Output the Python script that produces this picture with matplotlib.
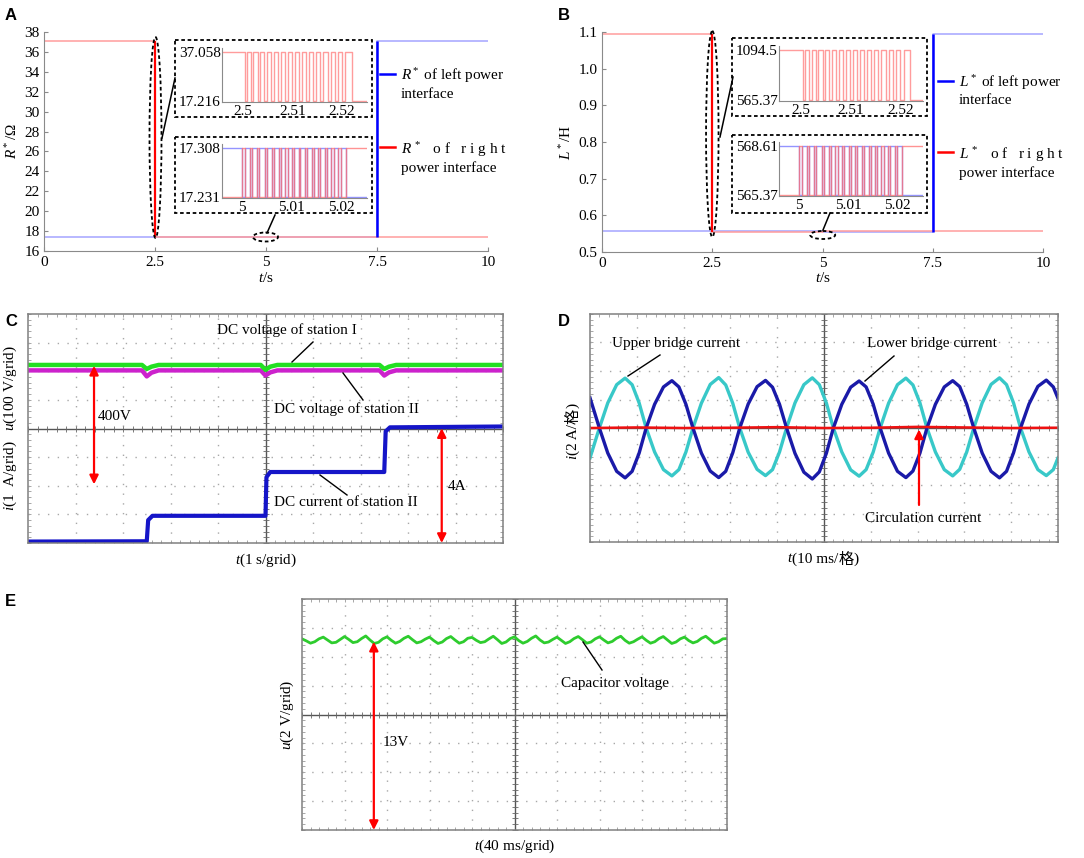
import matplotlib
matplotlib.use('Agg')
import matplotlib.pyplot as plt
from matplotlib.patches import Ellipse, Rectangle
from matplotlib.ticker import MultipleLocator
import numpy as np

plt.rcParams['font.family'] = ['Liberation Serif', 'Noto Sans CJK SC']
plt.rcParams['mathtext.fontset'] = 'custom'
plt.rcParams['mathtext.rm'] = 'Liberation Serif'
plt.rcParams['mathtext.it'] = 'Liberation Serif:italic'
plt.rcParams['font.size'] = 11

# ---------------- dados ----------------
# A / B: R* e L* das duas interfaces de potencia
t_seg = [0, 2.5, 5, 7.5, 10]
R_left = [17.42, 17.42, 17.38, 37.10, 37.10]
R_right = [37.10, 17.38, 17.42, 17.42, 17.42]
L_left = [0.556, 0.556, 0.554, 1.094, 1.094]
L_right = [1.094, 0.554, 0.556, 0.556, 0.556]

edges_25 = [2.50030, 2.50078, 2.50166, 2.50207, 2.50295, 2.50343, 2.50431, 2.50479,
            2.50567, 2.50615, 2.50703, 2.50758, 2.50846, 2.50900, 2.50989, 2.51043,
            2.51132, 2.51186, 2.51274, 2.51329, 2.51417, 2.51472, 2.51560, 2.51621,
            2.51710, 2.51771, 2.51852, 2.51920, 2.52002, 2.52070, 2.52206]
edges_5 = [5.00000, 5.00048, 5.00150, 5.00190, 5.00306, 5.00347, 5.00456, 5.00496,
           5.00598, 5.00646, 5.00734, 5.00782, 5.00870, 5.00918, 5.01006, 5.01054,
           5.01136, 5.01176, 5.01272, 5.01312, 5.01408, 5.01448, 5.01530, 5.01578,
           5.01666, 5.01714, 5.01802, 5.01850, 5.01938, 5.01986, 5.02088]
R_ins1 = (17.216, 37.058)
R_ins2 = (17.231, 17.308)
L_ins1 = (565.37, 1094.5)
L_ins2 = (565.37, 568.61)
ins1_ticks = [2.5, 2.51, 2.52]
ins2_ticks = [5, 5.01, 5.02]

# C: tensoes e corrente DC (divisoes do osciloscopio)
c_tv = [0, 2.4, 2.5, 2.6, 2.75, 4.9, 5.0, 5.1, 5.25, 7.4, 7.5, 7.6, 7.75, 10]
c_u1 = [6.22, 6.22, 6.08, 6.16, 6.22, 6.22, 6.05, 6.16, 6.22, 6.22, 6.08, 6.16, 6.22, 6.22]
c_u2 = [6.03, 6.03, 5.82, 5.95, 6.03, 6.03, 5.85, 5.96, 6.03, 6.03, 5.85, 5.96, 6.03, 6.03]
c_ti = [0, 2.5, 2.53, 2.62, 5.0, 5.02, 5.1, 7.5, 7.53, 7.62, 10]
c_i = [0.05, 0.06, 0.80, 0.95, 0.95, 2.30, 2.48, 2.48, 3.90, 4.04, 4.07]

# D: correntes dos bracos (div)
d_t = [0,
       0.2, 0.38, 0.57, 0.75, 0.9, 1.05, 1.2, 1.38, 1.57, 1.75, 1.9, 2.05,
       2.2, 2.38, 2.57, 2.75, 2.9, 3.05, 3.2, 3.38, 3.57, 3.75, 3.9, 4.05,
       4.2, 4.38, 4.57, 4.75, 4.9, 5.05, 5.2, 5.38, 5.57, 5.75, 5.9, 6.05,
       6.2, 6.38, 6.57, 6.75, 6.9, 7.05, 7.2, 7.38, 7.57, 7.75, 7.9, 8.05,
       8.2, 8.38, 8.57, 8.75, 8.9, 9.05, 9.2, 9.38, 9.57, 9.75, 9.9, 10.0]
d_upper = [-1.05,
           0, 0.88, 1.52, 1.75, 1.52, 0.88, 0, -0.84, -1.46, -1.68, -1.46, -0.84,
           0, 0.87, 1.53, 1.77, 1.51, 0.87, 0, -0.85, -1.45, -1.67, -1.46, -0.84,
           0, 0.88, 1.52, 1.76, 1.52, 0.88, 0, -0.84, -1.47, -1.69, -1.46, -0.85,
           0, 0.87, 1.52, 1.75, 1.51, 0.88, 0, -0.84, -1.46, -1.68, -1.45, -0.84,
           0, 0.88, 1.53, 1.76, 1.52, 0.88, 0, -0.84, -1.46, -1.67, -1.46, -1.05]
d_lower = [1.06,
           0, -0.88, -1.52, -1.75, -1.52, -0.88, 0, 0.83, 1.44, 1.66, 1.44, 0.83,
           0, -0.88, -1.51, -1.74, -1.52, -0.87, 0, 0.84, 1.45, 1.67, 1.43, 0.83,
           0, -0.89, -1.55, -1.79, -1.54, -0.89, 0, 0.83, 1.43, 1.65, 1.44, 0.84,
           0, -0.88, -1.52, -1.74, -1.51, -0.88, 0, 0.83, 1.44, 1.66, 1.45, 0.83,
           0, -0.88, -1.52, -1.75, -1.52, -0.87, 0, 0.84, 1.46, 1.68, 1.44, 1.04]
d_tc = [0, 1, 2, 3, 4, 5, 6, 7, 8, 9, 10]
d_circ = [0.0, 0.02, 0.0, 0.01, 0.03, 0.0, 0.01, 0.04, 0.02, 0.0, 0.01]

# E: tensao do capacitor (div)
e_u = [6.62, 6.55, 6.47, 6.52, 6.62, 6.68, 6.58, 6.48, 6.50, 6.60,
       6.70, 6.60, 6.49, 6.52, 6.63, 6.72, 6.58, 6.46, 6.50, 6.62,
       6.69, 6.57, 6.47, 6.53, 6.64, 6.71, 6.59, 6.48, 6.52, 6.61,
       6.68, 6.56, 6.46, 6.51, 6.63, 6.70, 6.58, 6.47, 6.52, 6.64,
       6.67, 6.57, 6.49, 6.52, 6.62, 6.71, 6.59, 6.46, 6.51, 6.63,
       6.69, 6.56, 6.47, 6.53, 6.64, 6.72, 6.58, 6.48, 6.51, 6.60,
       6.68, 6.57, 6.46, 6.52, 6.63, 6.70, 6.59, 6.47, 6.51, 6.62,
       6.69, 6.58, 6.48, 6.53, 6.64, 6.71, 6.57, 6.47, 6.52, 6.61,
       6.69, 6.57, 6.47, 6.52, 6.63, 6.70, 6.58, 6.46, 6.51, 6.62,
       6.68, 6.56, 6.48, 6.53, 6.64, 6.71, 6.59, 6.47, 6.52, 6.62,
       6.63]
e_t = np.linspace(0, 10, len(e_u))

# ---------------- figura ----------------
W, H = 1084, 858
fig = plt.figure(figsize=(W / 100, H / 100), dpi=100)


def px_axes(x0, y0, x1, y1):
    return fig.add_axes([x0 / W, 1 - y1 / H, (x1 - x0) / W, (y1 - y0) / H])


ov = fig.add_axes([0, 0, 1, 1])
ov.set_xlim(0, W)
ov.set_ylim(H, 0)
ov.axis('off')
ov.set_zorder(10)
ov.patch.set_alpha(0)

GRAY = '#8a8a8a'
LRED, LBLUE = '#ff9c9c', '#a4a4ff'


def estilo_eixo(ax):
    for s in ['top', 'right']:
        ax.spines[s].set_visible(False)
    for s in ['left', 'bottom']:
        ax.spines[s].set_color(GRAY)
    ax.tick_params(direction='in', length=3, color=GRAY, pad=3)


def painel_principal(box, left, right, ylim, yticks, ylabels):
    ax = px_axes(*box)
    ax.plot(t_seg, left, drawstyle='steps-post', color=LBLUE, lw=1.1)
    ax.plot(t_seg, right, drawstyle='steps-post', color=LRED, lw=1.1)
    ax.vlines(t_seg[1], right[1], right[0], color='red', lw=1.6)
    ax.vlines(t_seg[3], left[2], left[3], color='blue', lw=1.8)
    ax.set_xlim(0, 10)
    ax.set_ylim(*ylim)
    ax.set_xticks([0, 2.5, 5, 7.5, 10])
    ax.set_xticklabels(['0', '2.5', '5', '7.5', '10'])
    ax.set_yticks(yticks)
    ax.set_yticklabels(ylabels)
    estilo_eixo(ax)
    ax.tick_params(axis='x', pad=3.5)
    return ax


def detalhe(box, edges, xlim, lo, hi, ticks, ylabels, dois=False):
    ax = px_axes(*box)
    d = hi - lo
    xs = [xlim[0]] + edges + [xlim[1]]
    a = [lo if i % 2 == 0 else hi for i in range(len(edges))]
    ys = [hi] + a + [a[-1]]
    if dois:
        b = [hi if i % 2 == 0 else lo for i in range(len(edges))]
        ys2 = [lo] + b + [b[-1]]
        ax.plot(xs, ys, drawstyle='steps-post', color='#7070ff', lw=1.0, alpha=0.75)
        ax.plot(xs, ys2, drawstyle='steps-post', color='#ff6f6f', lw=1.0, alpha=0.75)
    else:
        ax.plot(xs, ys, drawstyle='steps-post', color=LRED, lw=1.0)
    ax.set_xlim(*xlim)
    ax.set_ylim(lo - 0.015 * d, hi + 0.08 * d)
    ax.set_xticks(ticks)
    ax.set_xticklabels([str(t) for t in ticks])
    ax.set_yticks([lo, hi])
    ax.set_yticklabels(ylabels)
    estilo_eixo(ax)
    ax.tick_params(length=0, pad=1)
    ax.tick_params(axis='x', pad=2.5)
    ax.patch.set_alpha(0)
    return ax


# ----- A -----
painel_principal((44, 32, 488, 251), R_left, R_right, (16, 38), range(16, 39, 2),
                 [str(v) for v in range(16, 39, 2)])
detalhe((222, 48, 367, 102), edges_25, (2.4957, 2.5251), R_ins1[0], R_ins1[1],
        ins1_ticks, ['17.216', '37.058'])
detalhe((222, 144, 367, 198), edges_5, (4.9959, 5.0252), R_ins2[0], R_ins2[1],
        ins2_ticks, ['17.231', '17.308'], dois=True)

# ----- B -----
painel_principal((602, 32, 1043, 252), L_left, L_right, (0.5, 1.1),
                 np.round(np.arange(0.5, 1.11, 0.1), 1),
                 ['0.5', '0.6', '0.7', '0.8', '0.9', '1.0', '1.1'])
detalhe((779, 46, 923, 101), edges_25, (2.4955, 2.5246), L_ins1[0], L_ins1[1],
        ins1_ticks, ['565.37', '1094.5'])
detalhe((779, 142, 923, 196), edges_5, (4.9959, 5.0251), L_ins2[0], L_ins2[1],
        ins2_ticks, ['565.37', '568.61'], dois=True)

# caixas tracejadas, elipses e ligacoes
dash = (0, (2, 1.5))
for (x0, y0, x1, y1) in [(175, 40, 372, 117), (175, 137, 372, 213),
                         (732, 38, 927, 116), (732, 135, 927, 213)]:
    ov.add_patch(Rectangle((x0, y0), x1 - x0, y1 - y0, fill=False, ec='black',
                           lw=1.3, ls=dash))
for (cx, cy, w, h) in [(155.5, 137.5, 12, 201), (265.5, 237, 25, 9),
                       (712.3, 134, 12.5, 206), (822.7, 235, 25, 8)]:
    ov.add_patch(Ellipse((cx, cy), w, h, fill=False, ec='black', lw=1.3, ls=dash))
for (x0, y0, x1, y1) in [(162, 138, 175, 78), (267, 233, 275, 215),
                         (720, 137, 733, 77), (823, 230, 830, 213)]:
    ov.plot([x0, x1], [y0, y1], color='black', lw=1.1)

# legendas A/B
for (xl, sym, y1, y2) in [(380, 'R', 74, 147), (938, 'L', 81, 152)]:
    ov.plot([xl, xl + 15], [y1, y1], color='blue', lw=1.8)
    ov.plot([xl, xl + 15], [y2, y2], color='red', lw=1.8)
    xt = xl + 21
    ov.text(xt, y1 + 2, f'${sym}^*$ of left power', va='center', ha='left')
    ov.text(xt, y1 + 20, 'interface', va='center', ha='left')
    ov.text(xt, y2 + 3, f'${sym}^{{\\,*}}$   o f   r i g h t', va='center', ha='left')
    ov.text(xt, y2 + 21, 'power interface', va='center', ha='left')

ov.text(12, 141, r'$R^*$/Ω', rotation=90, ha='center', va='center')
ov.text(266, 278, r'$t$/s', ha='center', va='center')
ov.text(566, 142, r'$L^*$/H', rotation=90, ha='center', va='center')
ov.text(823, 278, r'$t$/s', ha='center', va='center')


# ----- osciloscopio -----
def tela(box):
    ax = px_axes(*box)
    ax.set_xlim(0, 10)
    ax.set_ylim(0, 8)
    for k in range(1, 10):
        if k != 5:
            ax.axvline(k, color='#a8a8a8', lw=1.0, ls=(0, (1, 6)))
    for k in range(1, 8):
        if k != 4:
            ax.axhline(k, color='#a8a8a8', lw=1.0, ls=(0, (1, 6)))
    ax.axvline(5, color='#555555', lw=1.0)
    ax.axhline(4, color='#555555', lw=1.0)
    mx = np.arange(0, 10.01, 0.2)
    my = np.arange(0, 8.01, 0.2)
    ax.plot(mx, np.full(len(mx), 4), ls='none', marker='|', ms=4, mew=0.6, color='#666666')
    ax.plot(np.full(len(my), 5), my, ls='none', marker='_', ms=4, mew=0.6, color='#666666')
    for s in ax.spines.values():
        s.set_color('#808080')
        s.set_linewidth(1.1)
    ax.xaxis.set_major_locator(MultipleLocator(1))
    ax.yaxis.set_major_locator(MultipleLocator(1))
    ax.xaxis.set_minor_locator(MultipleLocator(0.2))
    ax.yaxis.set_minor_locator(MultipleLocator(0.2))
    ax.tick_params(which='both', direction='in', length=2.5, width=0.6, color='#999999',
                   top=True, right=True, labelbottom=False, labelleft=False)
    return ax


def seta(ax, x, y0, y1, dupla=True):
    ax.annotate('', xy=(x, y1), xytext=(x, y0),
                arrowprops=dict(arrowstyle='<|-|>' if dupla else '-|>', color='red',
                                lw=1.6, mutation_scale=13, shrinkA=0, shrinkB=0))


# ----- C -----
axc = tela((28, 314, 503, 543))
axc.plot(c_tv, c_u2, color='#cc22cc', lw=3.2)
axc.plot(c_tv, c_u1, color='#22e022', lw=3.2)
axc.plot(c_ti, c_i, color='#1515c8', lw=3.0)
seta(axc, 1.39, 6.19, 2.05)
seta(axc, 8.71, 4.01, 0.0)
ov.text(287, 330, 'DC voltage of station I', ha='center', va='center')
ov.text(274, 409, 'DC voltage of station II', ha='left', va='center')
ov.text(274, 503, 'DC current of station II', ha='left', va='center')
ov.text(98, 417, '400V', ha='left', va='center')
ov.text(448, 486, '4A', ha='left', va='center')
ov.text(266, 560, r'$t$(1 s/grid)', ha='center', va='center')
ov.text(10, 388, r'$u$(100 V/grid)', rotation=90, ha='center', va='center')
ov.text(10, 476, r'$i$(1  A/grid)', rotation=90, ha='center', va='center')
for (x0, y0, x1, y1) in [(292, 362, 313, 342), (343, 373, 363, 400), (320, 475, 347, 495)]:
    ov.plot([x0, x1], [y0, y1], color='black', lw=1.0)

# ----- D -----
axd = tela((590, 314, 1058, 542))
axd.plot(d_t, [v + 4 for v in d_upper], color='#38c8c8', lw=2.4)
axd.plot(d_t, [v + 4 for v in d_lower], color='#1a1aa8', lw=2.4)
axd.plot(d_tc, [v + 4 for v in d_circ], color='#ee1111', lw=1.8)
seta(axd, 7.03, 1.3, 3.95, dupla=False)
ov.text(612, 343, 'Upper bridge current', ha='left', va='center')
ov.text(867, 343, 'Lower bridge current', ha='left', va='center')
ov.text(865, 518, 'Circulation current', ha='left', va='center')
for (x0, y0, x1, y1) in [(628, 376, 660, 355), (865, 381, 894, 356)]:
    ov.plot([x0, x1], [y0, y1], color='black', lw=1.0)

# rotulos com o caractere 格: pecas colocadas uma apos a outra
renderer = fig.canvas.get_renderer()
x = 792
ov.text(x, 559, 't', style='italic', ha='right', va='center')
for parte in ['(10 ms/', '格', ')']:
    fam = ['Noto Sans CJK SC'] if parte == '格' else ['Liberation Serif']
    t = ov.text(x, 559, parte, ha='left', va='center', family=fam)
    x += t.get_window_extent(renderer).width
y = 459
for parte, estilo in [('i', 'italic'), ('(2 A/', 'normal'), ('格', 'normal'), (')', 'normal')]:
    fam = ['Noto Sans CJK SC'] if parte == '格' else ['Liberation Serif']
    t = ov.text(573, y, parte, rotation=90, ha='center', va='bottom', family=fam,
                style=estilo)
    y -= t.get_window_extent(renderer).height

# ----- E -----
axe = tela((302, 599, 727, 830))
axe.plot(e_t, e_u, color='#2ecc2e', lw=2.0)
seta(axe, 1.69, 6.52, 0.0)
ov.text(561, 683, 'Capacitor voltage', ha='left', va='center')
ov.text(383, 743, '13V', ha='left', va='center')
ov.plot([583, 602], [642, 670], color='black', lw=1.0)
ov.text(515, 846, r'$t$(40 ms/grid)', ha='center', va='center')
ov.text(287, 715, r'$u$(2 V/grid)', rotation=90, ha='center', va='center')

# letras dos paineis
for (x, y, s) in [(5, 15, 'A'), (558, 15, 'B'), (5, 321, 'C'), (558, 321, 'D'), (5, 602, 'E')]:
    ov.text(x, y, s, ha='left', va='center', fontsize=12, fontweight='bold',
            family='Liberation Sans')

fig.savefig('out.png', dpi=100)
plt.close()
